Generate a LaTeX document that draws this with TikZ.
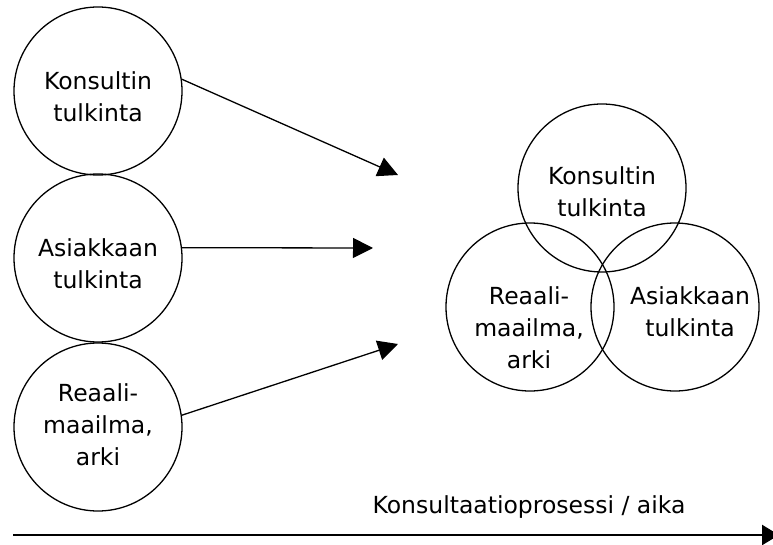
\documentclass[tikz,border=0pt]{standalone}
\usepackage{fontspec}
\setmainfont{DejaVu Sans}
\usetikzlibrary{arrows.meta}
\begin{document}
\begin{tikzpicture}[x=1pt,y=-1pt,
  ring/.style={draw, circle, line width=1.3pt, minimum size=168pt, inner sep=0pt},
  lbl/.style={align=center, inner sep=0pt, font=\fontsize{23.5pt}{32pt}\selectfont},
  conn/.style={line width=1.3pt, -{Triangle[length=20pt,width=20pt]}},
  timeline/.style={line width=2.4pt, -{Triangle[length=17pt,width=20pt]}}]
\useasboundingbox (0,0) rectangle (773,545);
% left circles
\node[ring] (c1) at (98,91) {};
\node[ring] (c2) at (98,258) {};
\node[ring] (c3) at (98,427) {};
\node[lbl] (t1) at (98,97) {Konsultin\\tulkinta};
\node[lbl] (t2) at (98,264) {Asiakkaan\\tulkinta};
\node[lbl] (t3) at (98,425) {Reaali-\\maailma,\\arki};
% Venn
\node[ring] (v1) at (602,188) {};
\node[ring] (v2) at (530,307) {};
\node[ring] (v3) at (675,307) {};
\node[lbl] (vt1) at (602,192) {Konsultin\\tulkinta};
\node[lbl] (vt2) at (529,328) {Reaali-\\maailma,\\arki};
\node[lbl] (vt3) at (690,312) {Asiakkaan\\tulkinta};
% arrow targets
\coordinate (e1) at (398,175);
\coordinate (e2) at (373,248);
\coordinate (e3) at (398,344);
\draw[conn] (c1.8) -- (e1);
\draw[conn] (c2.7) -- (e2);
\draw[conn] (c3.8) -- (e3);
% timeline
\coordinate (s0) at (13,535);
\coordinate (s1) at (779,535);
\draw[timeline] (s0) -- (s1);
\node[lbl, anchor=base] (tl) at (529,513) {Konsultaatioprosessi / aika};
\end{tikzpicture}
\end{document}
